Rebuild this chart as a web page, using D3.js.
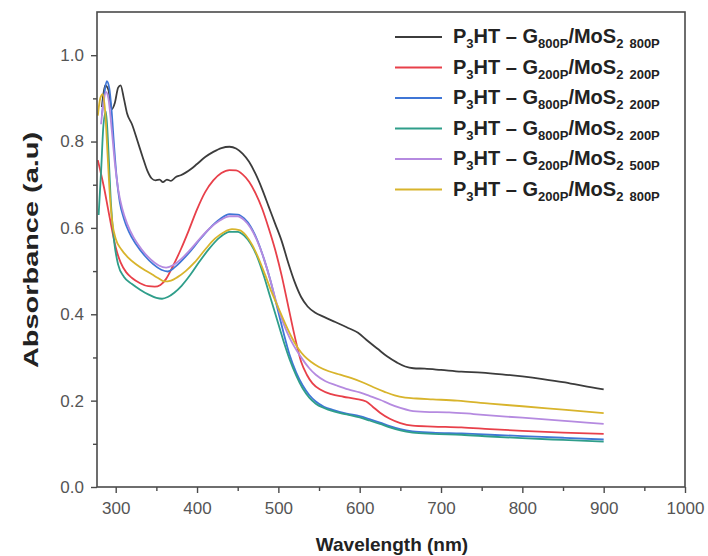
<!DOCTYPE html>
<html><head><meta charset="utf-8">
<script src="https://cdn.jsdelivr.net/npm/d3@7"></script>
<style>body{margin:0;background:#fff;} svg{display:block;font-family:"Liberation Sans",Arial,sans-serif;}</style>
</head><body>
<svg id="chart" width="708" height="556"></svg>
<script>
// ---- data (wavelength nm, absorbance a.u.) ----
const sBlack = [[283,0.88],[287,0.93],[291,0.92],[295,0.875],[299,0.89],[303,0.925],[306,0.93],[310,0.9],[314,0.865],[320,0.84],[327,0.80],[333,0.765],[339,0.732],[344,0.715],[349,0.71],[354,0.712],[358,0.706],[363,0.712],[368,0.709],[374,0.718],[380,0.722],[386,0.728],[393,0.737],[400,0.748],[410,0.764],[420,0.776],[430,0.785],[440,0.788],[448,0.784],[456,0.772],[464,0.753],[472,0.725],[480,0.69],[488,0.65],[496,0.61],[504,0.57],[512,0.52],[520,0.475],[528,0.44],[536,0.418],[545,0.404],[556,0.394],[570,0.382],[584,0.37],[598,0.357],[610,0.338],[622,0.32],[634,0.302],[646,0.288],[656,0.279],[666,0.275],[680,0.274],[700,0.271],[725,0.267],[750,0.265],[775,0.261],[800,0.256],[825,0.25],[850,0.243],[875,0.234],[900,0.226]];
const sRed = [[278,0.757],[282,0.725],[286,0.69],[290,0.65],[295,0.6],[300,0.555],[306,0.52],[313,0.497],[320,0.484],[330,0.472],[340,0.465],[348,0.464],[355,0.468],[362,0.482],[370,0.51],[380,0.55],[390,0.595],[400,0.643],[410,0.683],[420,0.71],[430,0.727],[440,0.734],[448,0.733],[456,0.724],[464,0.707],[472,0.68],[480,0.645],[488,0.6],[496,0.55],[504,0.49],[512,0.42],[520,0.35],[528,0.29],[535,0.26],[542,0.24],[552,0.225],[565,0.215],[580,0.209],[595,0.204],[608,0.198],[616,0.186],[625,0.172],[637,0.158],[650,0.148],[665,0.142],[690,0.14],[725,0.138],[760,0.134],[800,0.13],[850,0.126],[900,0.123]];
const sBlue = [[283,0.86],[286,0.91],[289,0.94],[292,0.925],[295,0.87],[298,0.79],[301,0.72],[305,0.66],[310,0.622],[316,0.592],[325,0.562],[336,0.535],[346,0.516],[356,0.503],[364,0.499],[372,0.508],[380,0.522],[390,0.542],[403,0.572],[415,0.598],[428,0.62],[440,0.632],[450,0.631],[458,0.622],[466,0.603],[474,0.572],[482,0.53],[490,0.48],[498,0.42],[506,0.36],[514,0.305],[522,0.265],[530,0.235],[538,0.213],[546,0.198],[556,0.186],[568,0.178],[584,0.17],[600,0.164],[612,0.157],[625,0.149],[637,0.141],[650,0.134],[665,0.129],[690,0.126],[725,0.124],[760,0.121],[800,0.118],[850,0.114],[900,0.11]];
const sTeal = [[279,0.63],[282,0.73],[285,0.84],[288,0.87],[291,0.78],[294,0.66],[298,0.57],[303,0.515],[310,0.487],[320,0.47],[330,0.457],[340,0.446],[350,0.438],[357,0.436],[364,0.44],[372,0.45],[381,0.466],[392,0.492],[403,0.522],[415,0.552],[428,0.578],[440,0.591],[450,0.591],[458,0.582],[466,0.563],[474,0.533],[482,0.49],[490,0.44],[498,0.39],[506,0.34],[514,0.295],[522,0.258],[530,0.228],[538,0.207],[546,0.193],[556,0.183],[568,0.175],[584,0.168],[600,0.161],[612,0.154],[625,0.146],[637,0.138],[650,0.131],[665,0.126],[690,0.123],[725,0.121],[760,0.117],[800,0.113],[850,0.109],[900,0.105]];
const sPurple = [[282,0.84],[285,0.89],[288,0.915],[291,0.9],[295,0.83],[299,0.75],[303,0.69],[308,0.645],[314,0.61],[322,0.578],[332,0.55],[343,0.527],[353,0.513],[362,0.508],[371,0.514],[380,0.527],[390,0.546],[403,0.574],[415,0.598],[428,0.617],[440,0.627],[450,0.627],[458,0.618],[466,0.6],[474,0.57],[482,0.53],[490,0.48],[498,0.425],[506,0.38],[514,0.345],[522,0.318],[530,0.295],[538,0.275],[546,0.26],[558,0.245],[572,0.235],[586,0.226],[600,0.219],[612,0.211],[625,0.202],[637,0.192],[650,0.183],[662,0.177],[680,0.174],[710,0.173],[740,0.169],[780,0.163],[820,0.158],[860,0.152],[900,0.146]];
const sYellow = [[278,0.86],[281,0.9],[284,0.91],[287,0.87],[290,0.77],[293,0.67],[296,0.61],[300,0.575],[307,0.55],[315,0.532],[325,0.516],[336,0.502],[345,0.492],[352,0.484],[360,0.476],[368,0.478],[376,0.486],[386,0.5],[397,0.52],[410,0.55],[422,0.575],[433,0.59],[443,0.597],[452,0.595],[460,0.583],[468,0.56],[476,0.528],[484,0.49],[492,0.45],[500,0.415],[508,0.38],[516,0.348],[524,0.322],[532,0.303],[540,0.29],[550,0.278],[562,0.268],[576,0.26],[590,0.252],[604,0.242],[617,0.231],[630,0.221],[643,0.212],[656,0.207],[670,0.205],[690,0.203],[720,0.2],[760,0.193],[800,0.187],[850,0.179],[900,0.171]];

const seriesData = [sBlack, sRed, sBlue, sTeal, sPurple, sYellow];
const seriesColors = ["#3c3c3c", "#e8404a", "#3f76d6", "#2f9e8a", "#b58ae0", "#d8b42c"];
const legendG = ["800P", "200P", "800P", "800P", "200P", "200P"];
const legendM = ["800P", "200P", "200P", "200P", "500P", "800P"];

const xTicks = [300, 400, 500, 600, 700, 800, 900, 1000];
const xMinor = [350, 450, 550, 650, 750, 850, 950];
const yTicks = [0.0, 0.2, 0.4, 0.6, 0.8, 1.0];
const yMinor = [0.1, 0.3, 0.5, 0.7, 0.9];

// ---- layout ----
const svg = d3.select("#chart");
const L = 97, R = 685, T = 12, B = 487;
const x = d3.scaleLinear().domain([277, 1000]).range([L, R]);
const y = d3.scaleLinear().domain([0, 1.1]).range([B, T]);
const axisColor = "#4a4a4a";
const labelColor = "#555";

// series lines
const line = d3.line().x(d => x(d[0])).y(d => y(d[1])).curve(d3.curveMonotoneX);
svg.append("g").selectAll("path").data(seriesData).join("path")
  .attr("d", line).attr("fill", "none")
  .attr("stroke", (d, i) => seriesColors[i])
  .attr("stroke-width", 1.8).attr("stroke-linejoin", "round");

// frame
svg.append("rect").attr("x", L).attr("y", T).attr("width", R - L).attr("height", B - T)
  .attr("fill", "none").attr("stroke", axisColor).attr("stroke-width", 1.6);

// x axis
const xAxis = svg.append("g").attr("transform", `translate(0,${B})`)
  .call(d3.axisBottom(x).tickValues(xTicks).tickSize(6).tickPadding(9).tickFormat(d3.format("d")));
const xAxisMinor = svg.append("g").attr("transform", `translate(0,${B})`)
  .call(d3.axisBottom(x).tickValues(xMinor).tickSize(4).tickFormat(""));
// y axis
const yAxis = svg.append("g").attr("transform", `translate(${L},0)`)
  .call(d3.axisLeft(y).tickValues(yTicks).tickSize(6).tickPadding(7).tickFormat(d3.format(".1f")));
const yAxisMinor = svg.append("g").attr("transform", `translate(${L},0)`)
  .call(d3.axisLeft(y).tickValues(yMinor).tickSize(4).tickFormat(""));

[xAxis, xAxisMinor, yAxis, yAxisMinor].forEach(g => {
  g.select(".domain").remove();
  g.selectAll(".tick line").attr("stroke", axisColor).attr("stroke-width", 1.4);
  g.selectAll(".tick text").attr("fill", labelColor).style("font-size", "17px")
    .style("font-family", '"Liberation Sans",Arial,sans-serif');
});

// axis titles
svg.append("text").attr("x", 392).attr("y", 551).attr("text-anchor", "middle")
  .style("font-size", "19px").style("font-weight", "bold").attr("fill", "#222")
  .text("Wavelength (nm)");
svg.append("text").attr("transform", "translate(38,250) rotate(-90)").attr("text-anchor", "middle")
  .style("font-size", "20px").style("font-weight", "bold").attr("fill", "#222")
  .attr("textLength", 236).attr("lengthAdjust", "spacingAndGlyphs")
  .text("Absorbance (a.u)");

// legend
const leg = svg.append("g");
seriesColors.forEach((c, i) => {
  const cy = 37 + i * 30.5;
  leg.append("line").attr("x1", 395).attr("x2", 442).attr("y1", cy).attr("y2", cy)
    .attr("stroke", c).attr("stroke-width", 1.8);
  const t = leg.append("text").attr("x", 453).attr("y", cy + 6)
    .style("font-size", "20px").style("font-weight", "bold").attr("fill", "#222");
  t.append("tspan").text("P");
  t.append("tspan").attr("dy", 5).style("font-size", "13px").text("3");
  t.append("tspan").attr("dy", -5).text("HT \u2013 G");
  t.append("tspan").attr("dy", 5).style("font-size", "13px").text(legendG[i]);
  t.append("tspan").attr("dy", -5).text("/MoS");
  t.append("tspan").attr("dy", 5).style("font-size", "13px").text("2");
  t.append("tspan").attr("dx", 6).style("font-size", "13px").text(legendM[i]);
});
</script>
</body></html>
